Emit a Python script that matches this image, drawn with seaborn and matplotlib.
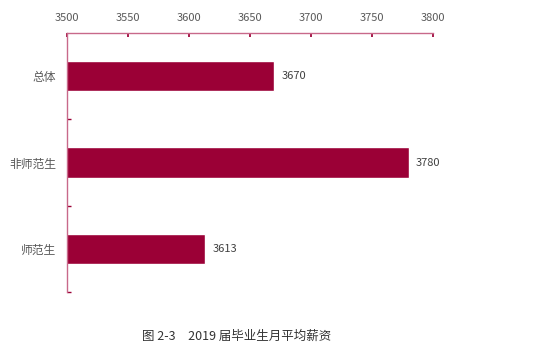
import matplotlib
matplotlib.use("Agg")
import matplotlib.pyplot as plt
import seaborn as sns
import pandas as pd
from matplotlib.ticker import FixedLocator

categories = ["总体", "非师范生", "师范生"]
salaries = [3670, 3780, 3613]
x_ticks = [3500, 3550, 3600, 3650, 3700, 3750, 3800]
caption = "图 2-3　2019 届毕业生月平均薪资"

bar_color = "#9B0036"
spine_color = "#C8698A"
text_color = "#595959"

sns.set_theme(style="white")
plt.rcParams["font.family"] = ["Noto Sans CJK SC", "DejaVu Sans"]

df = pd.DataFrame({"group": categories, "salary": salaries})

fig = plt.figure(figsize=(5.46, 3.58), dpi=100)
ax = fig.add_axes([0.1227, 0.184, 0.6703, 0.724])

sns.barplot(data=df, x="salary", y="group", orient="h", color=bar_color,
            width=0.35, saturation=1, ax=ax)

ax.set_xlim(3500, 3800)
ax.set_ylim(2.5, -0.5)
ax.set_xticks(x_ticks)
ax.xaxis.tick_top()
ax.set_xlabel("")
ax.set_ylabel("")

for s in ["right", "bottom"]:
    ax.spines[s].set_visible(False)
for s in ["top", "left"]:
    ax.spines[s].set_color(spine_color)
    ax.spines[s].set_linewidth(1.0)

ax.tick_params(axis="x", which="major", direction="in", length=3, color="#9B0036",
               labelsize=8, labelcolor=text_color, pad=7)
ax.tick_params(axis="y", which="major", length=0, labelsize=8.5,
               labelcolor=text_color, pad=8)
ax.yaxis.set_minor_locator(FixedLocator([0.5, 1.5, 2.5]))
ax.tick_params(axis="y", which="minor", direction="in", length=3, color="#9B0036", left=True)

for i, v in enumerate(salaries):
    ax.text(v + 6, i, f"{v}", va="center", ha="left", fontsize=8, color="#404040")

fig.text(0.26, 0.06, caption, fontsize=9, color="#333333", ha="left", va="center")

fig.savefig("out.png", dpi=100)
